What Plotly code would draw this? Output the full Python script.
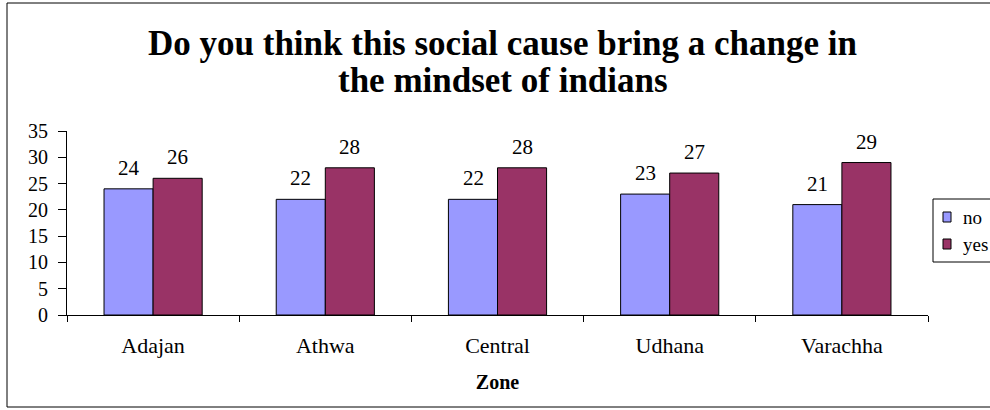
import plotly.graph_objects as go

zones = ["Adajan", "Athwa", "Central", "Udhana", "Varachha"]
no_vals = [24, 22, 22, 23, 21]
yes_vals = [26, 28, 28, 27, 29]
series_names = ["no", "yes"]
series_colors = ["#9999FF", "#993366"]
title_lines = ["Do you think this social cause bring a change in", "the mindset of indians"]

FONT = "Liberation Serif, Times New Roman, serif"

fig = go.Figure()
for name, vals, col in zip(series_names, [no_vals, yes_vals], series_colors):
    fig.add_trace(go.Bar(name=name, x=zones, y=vals,
                         marker=dict(color=col, line=dict(color="black", width=1))))

L, R, T, B = 67, 62, 131, 95
W, H = 990, 410
pw, ph = W - L - R, H - T - B

def px_x(p):
    return (p - L) / pw

def px_y(p):
    return (H - B - p) / ph

fig.update_layout(
    width=W, height=H,
    margin=dict(l=L, r=R, t=T, b=B, autoexpand=False),
    paper_bgcolor="white", plot_bgcolor="white",
    barmode="group", bargap=0.43, bargroupgap=0,
    font=dict(family=FONT, color="black"),
    showlegend=False,
    xaxis=dict(showline=True, linecolor="black", linewidth=1, ticks="outside", tickson="boundaries",
               ticklen=6, tickcolor="black", tickfont=dict(family=FONT, size=22, color="black"),
               ticklabelstandoff=11,
               title=dict(text="<b>Zone</b>", font=dict(family=FONT, size=20, color="black"), standoff=17),
               showgrid=False, zeroline=False, fixedrange=True),
    yaxis=dict(range=[0, 35], dtick=5, showline=True, linecolor="black", linewidth=1, ticks="outside",
               ticklen=8, tickcolor="black", tickfont=dict(family=FONT, size=20, color="black"),
               ticklabelstandoff=6,
               showgrid=False, zeroline=False, fixedrange=True),
)

# data labels above bars
offsets = [-24.5, 24.5]
for vals, dx in zip([no_vals, yes_vals], offsets):
    for z, v in zip(zones, vals):
        fig.add_annotation(x=z, y=v, xref="x", yref="y", text=str(v), showarrow=False,
                           xshift=dx, yshift=7, yanchor="bottom", xanchor="center",
                           font=dict(family=FONT, size=21, color="black"))

# title (two lines)
for line, cy in zip(title_lines, [43, 81]):
    fig.add_annotation(text="<b>" + line + "</b>", xref="paper", yref="paper",
                       x=px_x(503), y=px_y(cy), xanchor="center", yanchor="middle",
                       showarrow=False, font=dict(family=FONT, size=35, color="black"))

# outer chart border
fig.add_shape(type="rect", xref="paper", yref="paper", x0=px_x(7), x1=px_x(1000), y0=px_y(407), y1=px_y(3),
              line=dict(color="black", width=1), layer="below")

# legend box (drawn to match the reference's compact legend)
fig.add_shape(type="rect", xref="paper", yref="paper", x0=px_x(933), x1=px_x(1005), y0=px_y(262), y1=px_y(199),
              line=dict(color="black", width=1), fillcolor="white", layer="above")
for i, (name, col) in enumerate(zip(series_names, series_colors)):
    cy = 217 + 27 * i
    fig.add_shape(type="rect", xref="paper", yref="paper", x0=px_x(943), x1=px_x(951),
                  y0=px_y(cy + 5), y1=px_y(cy - 5), line=dict(color="black", width=1), fillcolor=col, layer="above")
    fig.add_annotation(text=name, xref="paper", yref="paper", x=px_x(961), y=px_y(cy),
                       xanchor="left", yanchor="middle", showarrow=False,
                       font=dict(family=FONT, size=19, color="black"))

fig.write_html("out.html")
